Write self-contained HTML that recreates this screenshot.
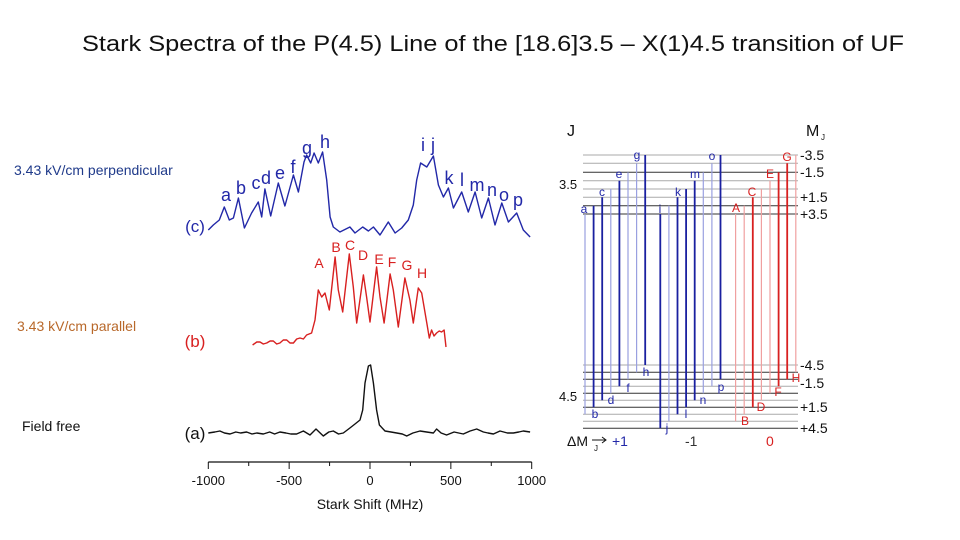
<!DOCTYPE html>
<html><head><meta charset="utf-8"><style>
body{margin:0;background:#fff}
svg{display:block;font-family:"Liberation Sans",sans-serif}
</style></head><body>
<svg id="fig" width="960" height="540" viewBox="0 0 960 540">
<text x="493" y="51" font-size="22" text-anchor="middle" textLength="822" lengthAdjust="spacingAndGlyphs" fill="#111">Stark Spectra of the P(4.5) Line of the [18.6]3.5 – X(1)4.5 transition of UF</text>
<text x="14" y="175" font-size="14" fill="#1f3a8a">3.43 kV/cm perpendicular</text>
<text x="17" y="331" font-size="14" fill="#b8682a">3.43 kV/cm parallel</text>
<text x="22" y="431" font-size="14" fill="#111">Field free</text>
<g id="spectra"></g>
<g id="diagram"></g>
</svg>
<script>
const ticksMajor=[-1000,-500,0,500,1000];
const ticksMinor=[-750,-250,250,750];
const cShift=[-1000,-969,-932,-901,-870,-845,-814,-777,-732,-691,-670,-650,-614,-567,-526,-474,-443,-408,-392,-367,-346,-320,-293,-268,-247,-227,-186,-124,-93,-45,-10,21,62,113,155,196,237,268,289,313,351,392,423,454,485,516,567,608,650,691,732,773,815,856,907,948,990];
const cInt=[2,7,12,25,12,14,34,4,19,30,15,43,16,49,26,57,40,70,77,69,79,69,80,52,15,5,0,5,-1,5,1,5,-3,10,-1,4,12,27,52,69,65,76,47,35,44,24,40,20,40,14,34,7,29,10,19,2,-5];
const bShift=[-726,-700,-680,-660,-639,-618,-598,-577,-557,-536,-515,-495,-474,-453,-433,-412,-392,-361,-340,-320,-299,-278,-252,-216,-196,-169,-128,-103,-82,-41,-21,0,41,62,87,124,144,175,216,247,268,299,320,351,367,381,396,412,428,443,458,470];
const bInt=[0,3,3,1,2,4,4,1,2,5,5,2,2,6,7,6,10,12,25,55,48,52,35,88,55,33,91,58,22,70,48,23,78,48,22,71,55,18,67,45,22,57,52,22,7,15,9,12,14,13,15,-2];
const aShift=[-1000,-960,-928,-900,-866,-830,-800,-763,-730,-700,-660,-620,-590,-557,-520,-490,-454,-412,-371,-334,-289,-255,-227,-195,-165,-124,-93,-62,-45,-31,-10,4,21,41,58,93,130,165,200,227,265,309,350,392,412,440,474,520,577,619,660,701,730,763,804,850,887,920,948,990];
const aInt=[0,1,2,0,-1,1,0,1,-1,0,-1,1,-1,1,0,-1,-1,2,-2,4,-3,1,2,-1,0,5,9,13,23,50,67,68,50,23,8,2,1,0,-1,-3,0,2,1,0,4,0,-2,1,-1,2,4,1,0,-1,2,0,0,1,2,1];
const NS='http://www.w3.org/2000/svg';
const sp=document.getElementById('spectra');
function el(tag,attrs,parent,text){const e=document.createElementNS(NS,tag);for(const k in attrs)e.setAttribute(k,attrs[k]);if(text!==undefined)e.textContent=text;parent.appendChild(e);return e;}
function xs(v){return 370+v*0.1617;}
function trace(sh,it,base,color,name){
  let d='';for(let i=0;i<sh.length;i++){d+=(i?'L':'M')+xs(sh[i]).toFixed(1)+' '+(base-it[i]).toFixed(1);}
  const p=el('path',{d:d,fill:'none',stroke:color,'stroke-width':1.4,'stroke-linejoin':'round'},sp);
  
  
}
trace(cShift,cInt,232,'#2228a8','trace-perpendicular');
trace(bShift,bInt,345,'#d82020','trace-parallel');
trace(aShift,aInt,433,'#111','trace-field-free');
const ax=el('line',{x1:xs(-1000),x2:xs(1000),y1:462,y2:462,stroke:'#111','stroke-width':1.2},sp);


ticksMajor.forEach(v=>{
  const t=el('line',{x1:xs(v),x2:xs(v),y1:462,y2:469,stroke:'#111'},sp);
  
  
  const l=el('text',{x:xs(v),y:485,'font-size':13,'text-anchor':'middle',fill:'#111'},sp,String(v));
  
  
});
ticksMinor.forEach(v=>{
  const t=el('line',{x1:xs(v),x2:xs(v),y1:462,y2:466,stroke:'#111'},sp);
  
  
});
const xt=el('text',{x:370,y:509,'font-size':14,'text-anchor':'middle',fill:'#111'},sp,'Stark Shift (MHz)');


const tl=[['(c)',195,232,'#2228a8'],['(b)',195,347,'#d82020'],['(a)',195,439,'#111']];
tl.forEach(a=>{const t=el('text',{x:a[1],y:a[2],'font-size':17,'text-anchor':'middle',fill:a[3]},sp,a[0]);
  
  });
const blueL=[['a',226,195],['b',241,188],['c',256,183],['d',266,178],['e',280,173],['f',293,167],['g',307,148],['h',325,142],['i',423,145],['j',433,145],['k',449,178],['l',462,180],['m',477,185],['n',492,190],['o',504,195],['p',518,200]];
blueL.forEach(a=>{const t=el('text',{x:a[1],y:a[2]+6,'font-size':18,'text-anchor':'middle',fill:'#2228a8'},sp,a[0]);
  
  });
const redL=[['A',319,263],['B',336,247],['C',350,245],['D',363,255],['E',379,259],['F',392,262],['G',407,265],['H',422,273]];
redL.forEach(a=>{const t=el('text',{x:a[1],y:a[2]+5,'font-size':14,'text-anchor':'middle',fill:'#d82020'},sp,a[0]);
  
  });

const dg=document.getElementById('diagram');
const upperY=[155,163.3,172.3,180.7,189,197.3,205.7,214];
const lowerY=[365,372.3,379.3,386.3,393.3,400.3,407.3,414.3,421.3,428.3];
const upperDark=[0,0,1,0,0,0,1,1];
const lowerDark=[0,1,1,0,1,0,1,0,0,1];
upperY.forEach((y,i)=>{const l=el('line',{x1:583,x2:798,y1:y,y2:y,stroke:upperDark[i]?'#333':'#aaa','stroke-width':1},dg);
  
  });
lowerY.forEach((y,i)=>{const l=el('line',{x1:583,x2:798,y1:y,y2:y,stroke:lowerDark[i]?'#333':'#aaa','stroke-width':1},dg);
  
  });
const groupColorDark=['#1a20a0','#1a20a0','#d82020'];
const groupColorLight=['#9aa0e0','#9aa0e0','#f0a0a0'];
const groupLowerOff=[7,9,8];
const darkPattern=[[0,1,1,0,1,0,0,1],[1,0,1,1,1,0,0,1],[0,0,1,0,0,1,1,0]];
for(let g=0;g<3;g++)for(let k=0;k<8;k++){
  const x=585+g*75.3+k*8.6, dark=darkPattern[g][k];
  const l=el('line',{x1:x,x2:x,y1:upperY[7-k],y2:lowerY[groupLowerOff[g]-k],stroke:dark?groupColorDark[g]:groupColorLight[g],'stroke-width':dark?1.8:1.2},dg);
  
  
}
const dLabels=[['g',637,155,'#2228a8'],['e',619,174,'#2228a8'],['c',602,192,'#2228a8'],['a',584,209,'#2228a8'],['o',712,156,'#2228a8'],['m',695,174,'#2228a8'],['k',678,192,'#2228a8'],['i',660,209,'#2228a8'],['A',736,208,'#d82020'],['C',752,192,'#d82020'],['E',770,174,'#d82020'],['G',787,157,'#d82020'],['h',646,372,'#2228a8'],['f',628,388,'#2228a8'],['d',611,400,'#2228a8'],['b',595,414,'#2228a8'],['p',721,387,'#2228a8'],['n',703,400,'#2228a8'],['l',686,414,'#2228a8'],['j',667,428,'#2228a8'],['H',796,378,'#d82020'],['F',778,392,'#d82020'],['D',761,407,'#d82020'],['B',745,421,'#d82020']];
dLabels.forEach(a=>{const t=el('text',{x:a[1],y:a[2]+4,'font-size':12,'text-anchor':'middle',fill:a[3]},dg,a[0]);
  
  });
const mLabels=[['-3.5',155],['-1.5',172],['+1.5',197],['+3.5',214],['-4.5',365],['-1.5',383],['+1.5',407],['+4.5',428]];
mLabels.forEach(a=>{const t=el('text',{x:800,y:a[1]+5,'font-size':14,fill:'#111'},dg,a[0]);
  
  });
const misc=[['J',567,136,16,'#111'],['M',806,136,16,'#111'],['3.5',559,189,13,'#111'],['4.5',559,401,13,'#111'],['ΔM',567,446,14,'#111'],['+1',612,446,14,'#2228a8'],['-1',685,446,14,'#333'],['0',766,446,14,'#d82020']];
misc.forEach(a=>{const t=el('text',{x:a[1],y:a[2],'font-size':a[3],fill:a[4]},dg,a[0]);
  
  });
const sj=el('text',{x:821,y:140,'font-size':8,fill:'#111'},dg,'J');


const sj2=el('text',{x:594,y:451,'font-size':8,fill:'#111'},dg,'J');


const ar=el('path',{d:'M592 440 L606 440 M602 437 L606 440 L602 443',stroke:'#111',fill:'none','stroke-width':1},dg);


</script>
</body></html>
